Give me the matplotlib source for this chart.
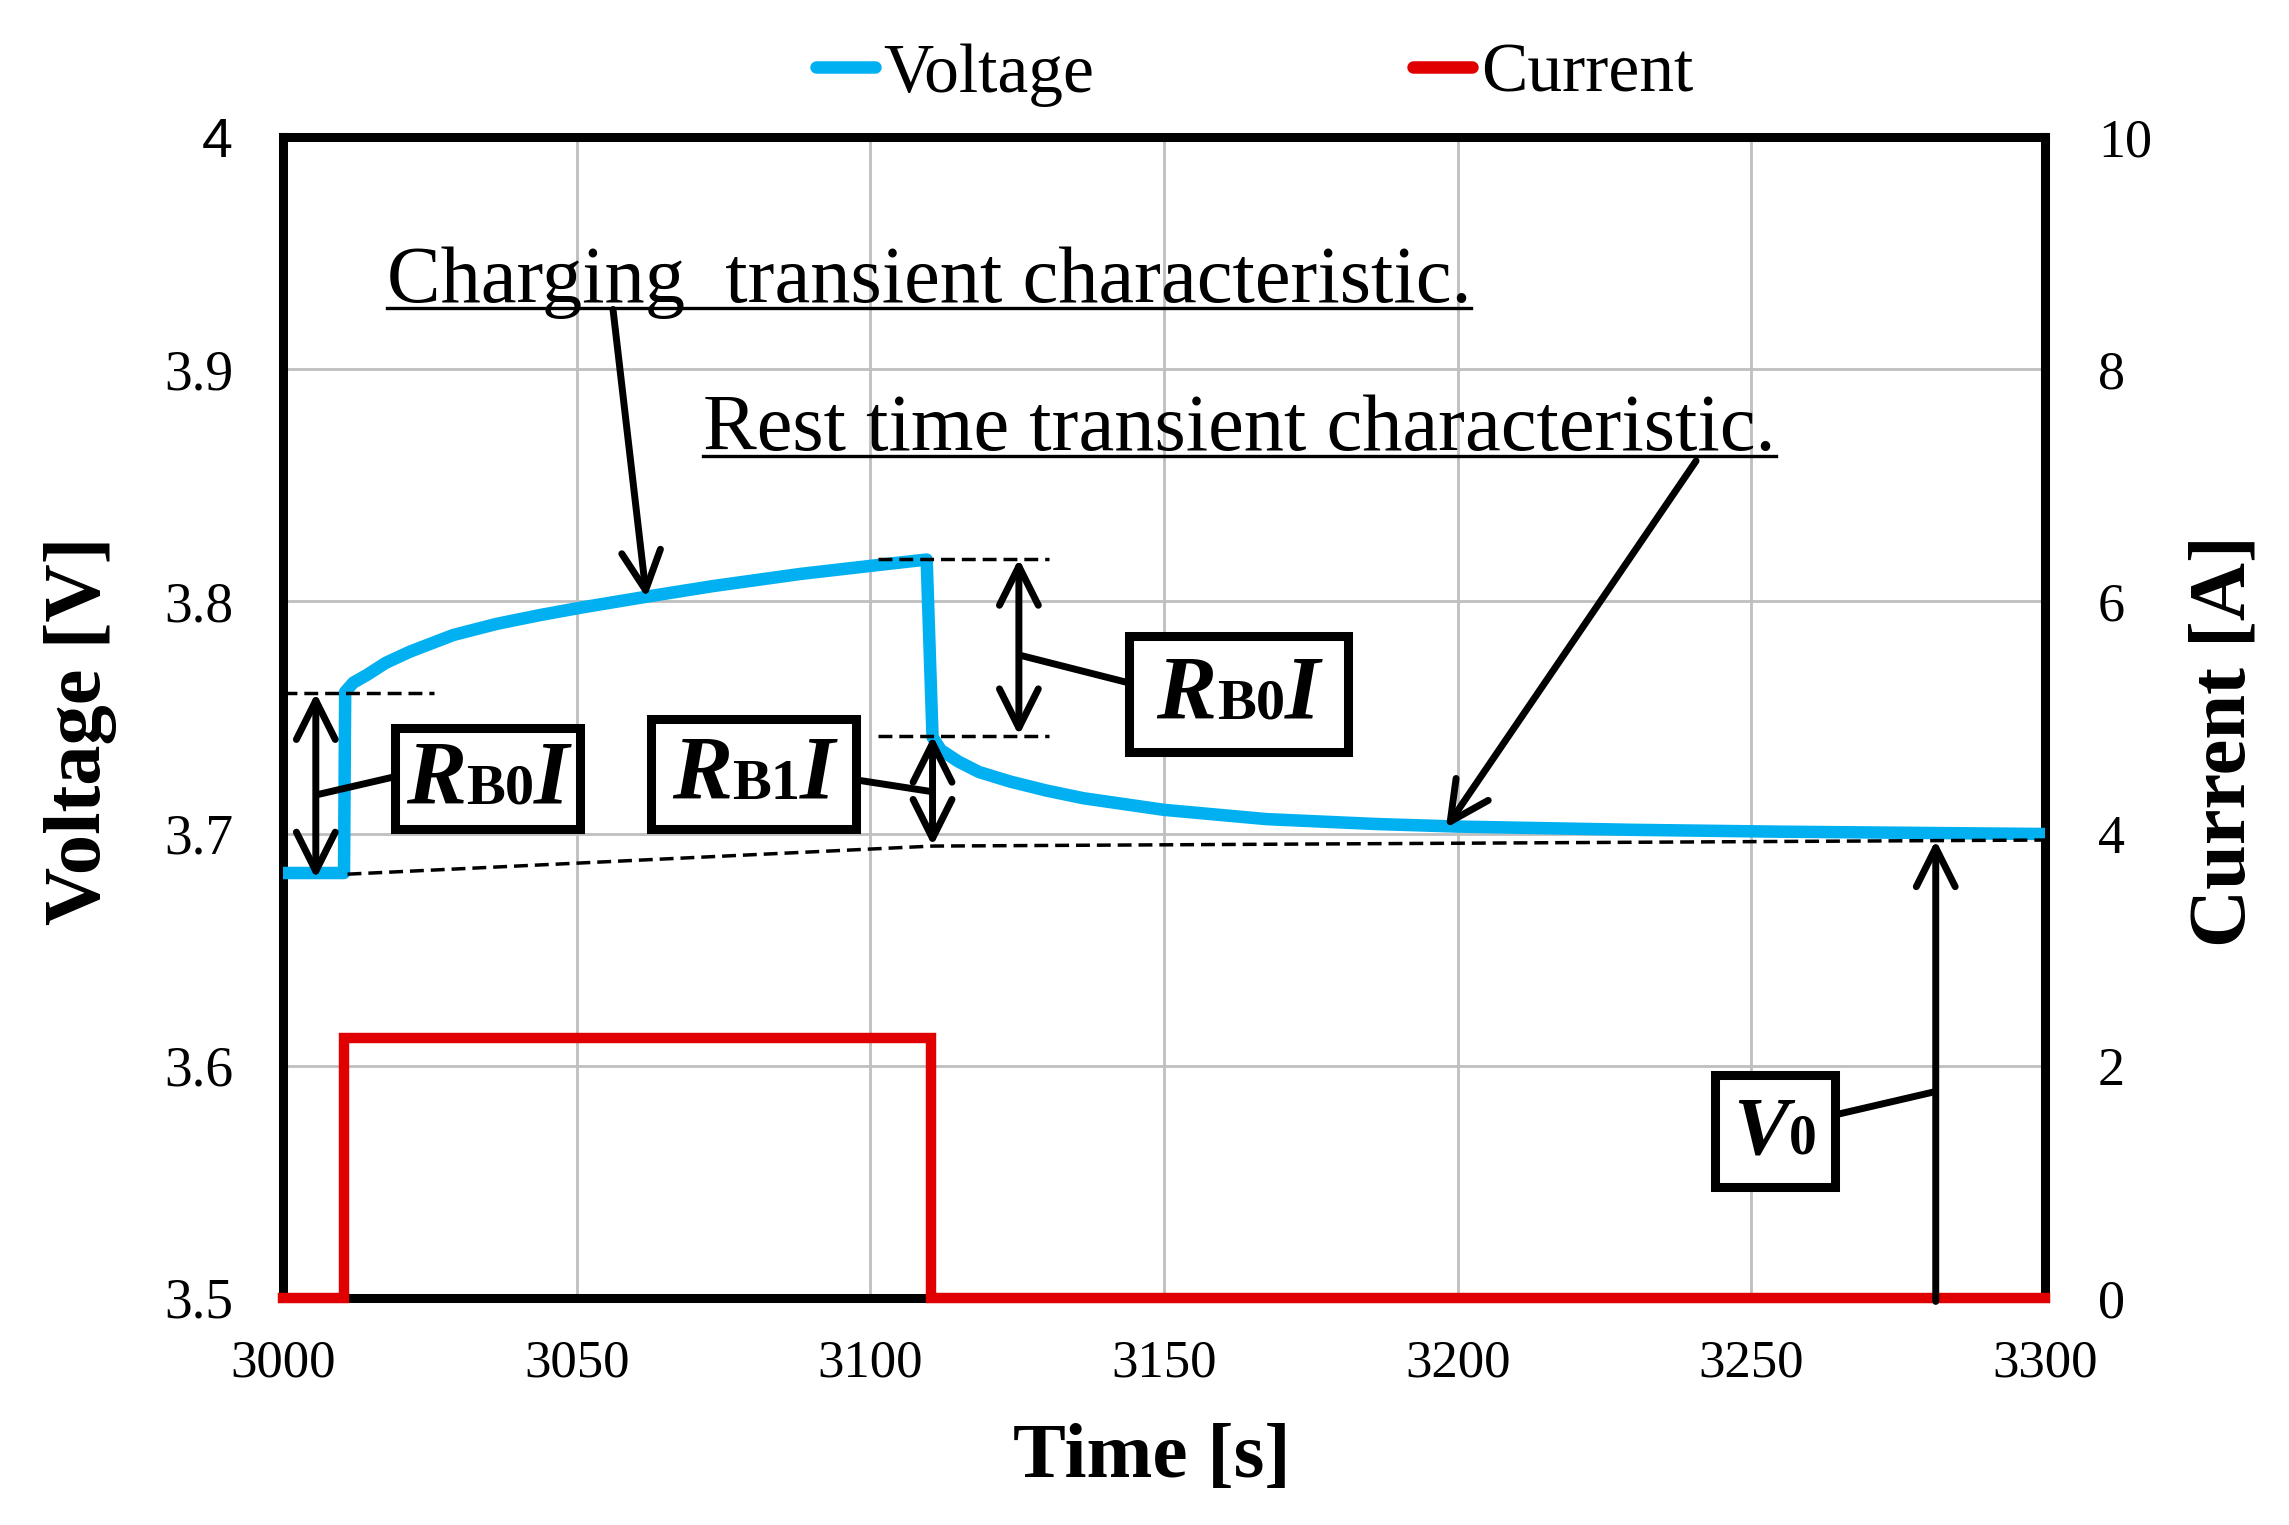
import matplotlib
matplotlib.use('Agg')
import matplotlib.pyplot as plt
from matplotlib.patches import Rectangle
from matplotlib.offsetbox import TextArea, HPacker, AnnotationBbox

plt.rcParams['font.family'] = ['Liberation Serif', 'DejaVu Serif']

# measured voltage [V] vs time [s]
t_volt = [3000, 3010.4, 3010.6, 3012.0, 3014.3, 3017.5, 3021.6, 3029.0, 3036.4, 3043.8,
          3051.2, 3061.9, 3073.3, 3088.1, 3102.9, 3109.6, 3110.6, 3112.0, 3115.0,
          3118.5, 3123.8, 3130.0, 3136.3, 3150.0, 3167.5, 3186.2, 3200.0, 3229.9,
          3254.9, 3300]
volt = [3.683, 3.683, 3.761, 3.765, 3.7683, 3.7735, 3.7783, 3.7855, 3.7903, 3.7941,
        3.7975, 3.8020, 3.8066, 3.8118, 3.8161, 3.8180, 3.7415, 3.7360, 3.7310,
        3.7265, 3.7224, 3.7185, 3.7152, 3.7102, 3.7062, 3.7041, 3.7030, 3.7016,
        3.7008, 3.6998]

# charging current [A]
t_curr = [3000, 3010.4, 3010.4, 3110.4, 3110.4, 3300]
curr = [0, 0, 2.24, 2.24, 0, 0]

x_ticks = [3000, 3050, 3100, 3150, 3200, 3250, 3300]
v_ticks = [3.5, 3.6, 3.7, 3.8, 3.9, 4.0]
v_labels = ['3.5', '3.6', '3.7', '3.8', '3.9', '4']
i_ticks = [0, 2, 4, 6, 8, 10]
i_labels = ['0', '2', '4', '6', '8', '10']

blue = '#00B0F0'
red = '#E00000'

fig = plt.figure(figsize=(22.89, 15.25), dpi=100)
ax = fig.add_axes([0.1236, 0.1489, 0.7698, 0.7613])
ax2 = ax.twinx()
ax.set_zorder(ax2.get_zorder() + 1)
ax.patch.set_visible(False)
ax2.patch.set_visible(True)
ax2.patch.set_facecolor('white')

lv, = ax.plot(t_volt, volt, color=blue, lw=9, label='Voltage', solid_joinstyle='round')
lc, = ax2.plot(t_curr, curr, color=red, lw=7.5, label='Current',
               solid_joinstyle='miter', clip_on=False, zorder=3)

ax.set_xlim(3000, 3300)
ax.set_ylim(3.5, 4.0)
ax2.set_ylim(0, 10)
ax.set_xticks(x_ticks)
ax.set_xticklabels([str(x) for x in x_ticks])
ax.set_yticks(v_ticks)
ax.set_yticklabels(v_labels)
ax2.set_yticks(i_ticks)
ax2.set_yticklabels(i_labels)
ax.get_yticklabels()[-1].set_family('Liberation Sans')

ax.tick_params(axis='x', length=0, pad=30, labelsize=38)
ax.tick_params(axis='y', length=0, pad=36, labelsize=40)
ax2.tick_params(axis='y', length=0, pad=38, labelsize=39)

# grid lives on the current axis so it stays under everything
ax2.xaxis.set_visible(True)
ax2.tick_params(axis='x', length=0, labelbottom=False)
ax2.grid(True, color='#BFBFBF', lw=2)
for sp in ax.spines.values():
    sp.set_visible(False)
for sp in ax2.spines.values():
    sp.set_linewidth(6.5)
    sp.set_color('black')

fig.text(0.035, 0.5207, 'Voltage [V]', rotation=90, ha='center', va='center',
         fontsize=58, fontweight='bold')
fig.text(0.972, 0.514, 'Current [A]', rotation=90, ha='center', va='center',
         fontsize=58, fontweight='bold')
fig.text(0.5033, 0.0439, 'Time [s]', ha='center', va='center',
         fontsize=57, fontweight='bold')

leg = fig.legend(handles=[lv, lc], labels=['Voltage', 'Current'], loc='center',
                 bbox_to_anchor=(0.548, 0.951), ncol=2, frameon=False, fontsize=50,
                 handlelength=0.85, handletextpad=0.12, columnspacing=4.6)
for h in leg.get_lines():
    h.set_solid_capstyle('round')
    h.set_linewidth(9)

# ---- annotations ----
dash = dict(color='black', lw=2.5, ls=(0, (4, 2)), zorder=4)
ax.plot([3000, 3025.7], [3.7606, 3.7606], **dash)
ax.plot([3101.3, 3130.4], [3.8184, 3.8184], **dash)
ax.plot([3101.3, 3130.4], [3.7422, 3.7422], **dash)
ax.plot([3011, 3110.6, 3300], [3.6825, 3.6946, 3.6972], **dash)

arr1 = dict(arrowstyle='->,head_length=2.8,head_width=1.4', mutation_scale=10,
            lw=5, color='black', shrinkA=0, shrinkB=0)
arr2 = dict(arr1, arrowstyle='<->,head_length=2.8,head_width=1.4')

ax.annotate('', xy=(3005.6, 3.7606), xytext=(3005.6, 3.6805), arrowprops=arr2, zorder=6)
ax.annotate('', xy=(3125.3, 3.8184), xytext=(3125.3, 3.7422), arrowprops=arr2, zorder=6)
ax.annotate('', xy=(3110.6, 3.7422), xytext=(3110.6, 3.6946), arrowprops=arr2, zorder=6)
ax.annotate('', xy=(3061.9, 3.8015), xytext=(3056.2, 3.9257), arrowprops=arr1, zorder=6)
ax.annotate('', xy=(3198.0, 3.7024), xytext=(3240.6, 3.8605), arrowprops=arr1, zorder=6)
ax.annotate('', xy=(3281.4, 3.6972), xytext=(3281.4, 3.4985), arrowprops=arr1, zorder=6,
            annotation_clip=False)

conn = dict(color='black', lw=5, solid_capstyle='butt', zorder=5)
ax.plot([3005.6, 3019.1], [3.7166, 3.7245], **conn)
ax.plot([3097.6, 3110.6], [3.7231, 3.7180], **conn)
ax.plot([3125.3, 3144.0], [3.7769, 3.7649], **conn)
ax.plot([3264.2, 3281.4], [3.5788, 3.5889], **conn)


def label_box(x0, x1, y0, y1, big, small, size_big, size_small):
    ax.add_patch(Rectangle((x0, y0), x1 - x0, y1 - y0, facecolor='white',
                           edgecolor='black', lw=6.5, zorder=7))
    bigprops = dict(fontsize=size_big, fontweight='bold', fontstyle='italic')
    parts = [TextArea(big, textprops=bigprops),
             TextArea(small, textprops=dict(fontsize=size_small, fontweight='bold'))]
    if big == 'R':
        parts.append(TextArea('I', textprops=bigprops))
    pack = HPacker(children=parts, align='baseline', pad=0, sep=0)
    ab = AnnotationBbox(pack, ((x0 + x1) / 2, (y0 + y1) / 2 - 0.001), frameon=False,
                        box_alignment=(0.5, 0.5), zorder=8)
    ax.add_artist(ab)


label_box(3019.1, 3050.6, 3.7018, 3.7453, 'R', 'B0', 65, 42)
label_box(3062.7, 3097.6, 3.7018, 3.7492, 'R', 'B1', 65, 42)
label_box(3144.0, 3181.3, 3.7349, 3.7849, 'R', 'B0', 65, 42)
label_box(3243.8, 3264.2, 3.5476, 3.5960, 'V', '0', 60, 40)

t1 = ax.text(3017.7, 3.9289, 'Charging  transient characteristic.', fontsize=58,
             ha='left', va='baseline', zorder=6)
t2 = ax.text(3071.6, 3.8652, 'Rest time transient characteristic.', fontsize=58,
             ha='left', va='baseline', zorder=6)

# underline the two captions
fig.canvas.draw()
r = fig.canvas.get_renderer()
inv = ax.transData.inverted()
for t in (t1, t2):
    bb = t.get_window_extent(r)
    base = ax.transData.transform(t.get_position())[1]
    (ux0, uy), (ux1, _) = inv.transform([(bb.x0, base - 6), (bb.x1, base - 6)])
    ax.plot([ux0, ux1], [uy, uy], color='black', lw=2.4, zorder=6)

fig.savefig('out.png', dpi=100)
